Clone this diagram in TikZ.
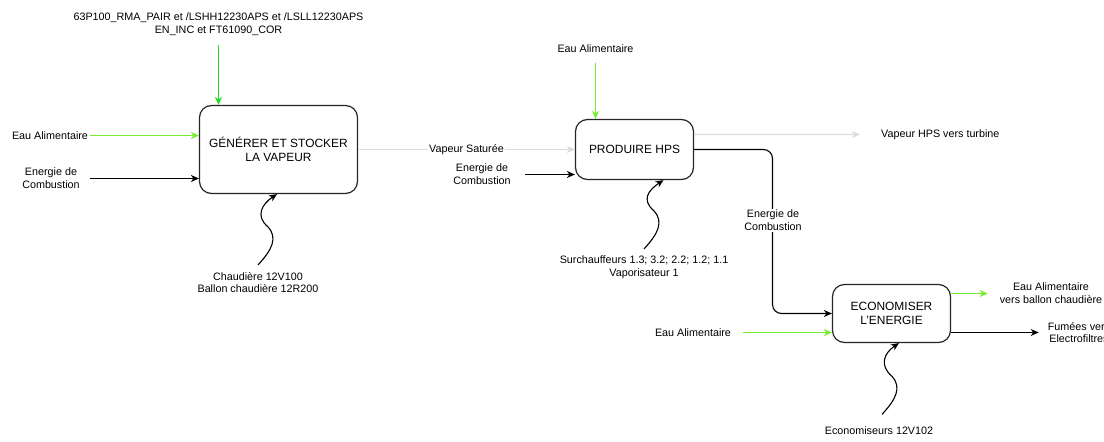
\documentclass[tikz,border=0pt]{standalone}
\usepackage{fontspec}
\setmainfont{Liberation Sans}
\usetikzlibrary{arrows.meta,calc}
\definecolor{gbright}{HTML}{22DD22}
\definecolor{glight}{HTML}{74EE2E}
\definecolor{vapgray}{HTML}{DCDCDC}

\begin{document}
\begin{tikzpicture}[x=1bp,y=-1bp,
  proc/.style={draw=black!85, line width=1.2bp, rounded corners=12bp, align=center,
               font=\fontsize{12}{13.5}\selectfont, inner sep=0pt},
  lbl/.style={align=center, font=\fontsize{10.8}{12.8}\selectfont, inner sep=1bp},
  flow/.style={line width=1.1bp, -{Stealth[length=8bp,width=7bp,inset=2.5bp]}}
]
% canvas
\clip (0,0) rectangle (1104,442);
\fill[white] (0,0) rectangle (1104,442);

% process boxes
\node[proc, minimum width=158bp, minimum height=88bp] (gen) at (278.5,149.5) {GÉNÉRER ET STOCKER\\LA VAPEUR};
\node[proc, minimum width=118bp, minimum height=60bp] (hps) at (634.5,149.5) {PRODUIRE HPS};
\node[proc, minimum width=118bp, minimum height=58bp] (eco) at (891.5,313.5) {ECONOMISER\\L'ENERGIE};

% labels
\node[lbl] (cmd) at (218.5,24.5) {63P100\_RMA\_PAIR et /LSHH12230APS et /LSLL12230APS\\EN\_INC et FT61090\_COR};
\node[lbl] (eau1) at (50,135.5) {Eau Alimentaire};
\node[lbl] (en1) at (51,178.5) {Energie de\\Combustion};
\node[lbl] (mat1) at (258,282.5) {Chaudière 12V100\\Ballon chaudière 12R200};
\node[lbl] (eau2) at (595.5,49) {Eau Alimentaire};
\node[lbl] (en2) at (482,174.5) {Energie de\\Combustion};
\node[lbl] (mat2) at (644,267.5) {Surchauffeurs 1.3; 3.2; 2.2; 1.2; 1.1\\Vaporisateur 1};
\node[lbl, anchor=west] (vhps) at (880,134.5) {Vapeur HPS vers turbine};
\node[lbl] (eau3) at (693,332.5) {Eau Alimentaire};
\node[lbl] (mat3) at (879,431) {Economiseurs 12V102};
\node[lbl] (eauout) at (1051,293.5) {Eau Alimentaire\\vers ballon chaudière};
\node[lbl] (fum) at (1079,332.5) {Fumées vers\\Electrofiltres};

% inputs of the steam generator
\draw[flow, gbright] ([yshift=-8bp]cmd.south) -- (cmd.south |- gen.north);
\draw[flow, glight] ([xshift=1bp]eau1.east) -- (eau1.east -| gen.west);
\draw[flow] ([xshift=9bp]en1.east) -- (en1.east -| gen.west);
\draw[flow] ([yshift=6bp]mat1.north) .. controls +(14,-15) and +(10,11) .. ++(10,-38)
  .. controls +(-13,-11) and +(-15,10) .. ([xshift=-1.5bp]gen.south);

% saturated steam to superheating
\draw[flow, vapgray] (gen.east) -- (gen.east -| hps.west)
  node[lbl, fill=white, pos=0.5, text=black] (vs) {Vapeur Saturée};

% inputs of the superheater
\draw[flow, glight] ([yshift=-8.5bp]eau2.south) -- (eau2.south |- hps.north);
\draw[flow] ([xshift=13bp]en2.east) -- (en2.east -| hps.west);
\draw[flow] ([yshift=6bp]mat2.north) .. controls +(14,-15) and +(10,11) .. ++(10,-38)
  .. controls +(-13,-11) and +(-15,10) .. ([xshift=29bp]hps.south);

% HPS steam output
\draw[flow, vapgray] ([yshift=15bp]hps.east) -- ([xshift=-20bp]vhps.west);

% flue gas energy to the economiser
\coordinate (bend) at (772.5,313.5);
\draw[flow, rounded corners=9bp] (hps.east) -| (bend) -- (eco.west);
\node[lbl, fill=white] (en3) at (773,220.5) {Energie de\\Combustion};

% economiser inputs and outputs
\draw[flow, glight] ([xshift=11bp]eau3.east) -- (eau3.east -| eco.west);
\draw[flow] ([xshift=3bp,yshift=11.5bp]mat3.north) .. controls +(14,-15) and +(10,11) .. ++(10,-38)
  .. controls +(-13,-11) and +(-15,10) .. ([xshift=7.5bp]eco.south);
\draw[flow, glight] ($(eco.east)+(0,-20)$) -- ($(eauout.west)+(-11,0)$);
\draw[flow] ($(eco.east)+(0,19)$) -- ($(fum.west)+(-8,0)$);
\end{tikzpicture}
\end{document}
